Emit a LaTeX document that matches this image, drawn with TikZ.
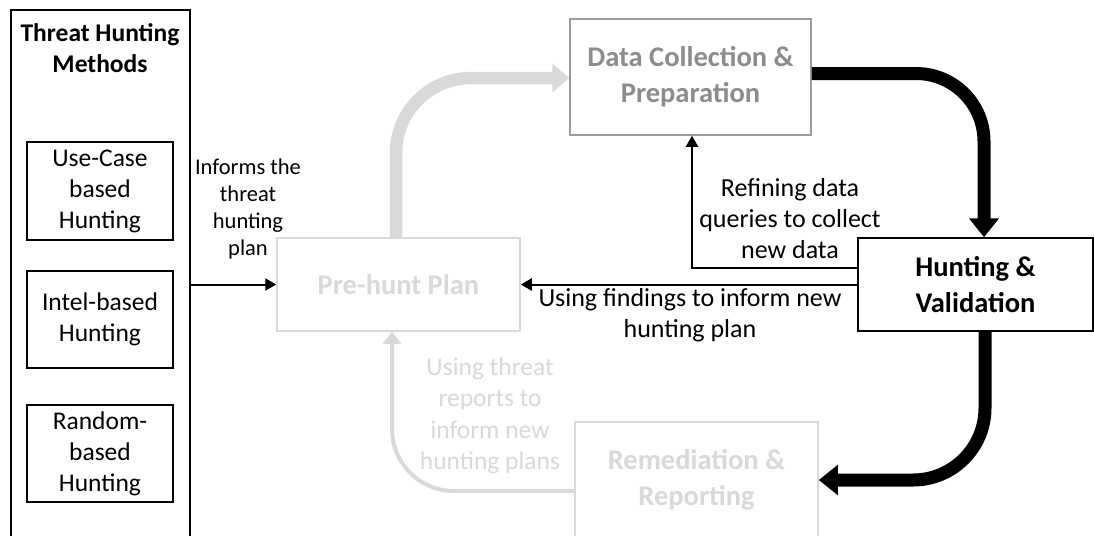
\documentclass[tikz,border=0pt]{standalone}
\usepackage{fontspec}
\setmainfont{Carlito}
\usetikzlibrary{arrows.meta,calc}
\definecolor{lgray}{RGB}{217,217,217}
\definecolor{mgraytext}{RGB}{140,140,140}
\definecolor{mgrayline}{RGB}{155,155,155}
\tikzset{
  base/.style={inner sep=0pt, align=center},
  mbox/.style={base, draw=black, line width=1.5pt, font=\fontsize{25.5}{31}\selectfont},
  stagebox/.style={base, line width=1.5pt, font=\bfseries\fontsize{28.5}{36}\selectfont},
  lbl/.style={base, font=\fontsize{26}{31}\selectfont},
  thinarrow/.style={draw=black, line width=2pt, -{Triangle[length=11pt,width=12pt]}},
  thinghost/.style={draw=lgray, line width=4pt, -{Triangle[length=12pt,width=18pt]}},
  thickblack/.style={draw=black, line width=13pt, -{Triangle[length=19pt,width=29pt]}},
  thickghost/.style={draw=lgray, line width=12.5pt, -{Triangle[length=17pt,width=28pt]}}
}
\begin{document}
\begin{tikzpicture}[x=1pt,y=-1pt]
\useasboundingbox (0,0) rectangle (1094,535);
\clip (0,0) rectangle (1094,535);
\fill[white] (0,0) rectangle (1094,535);

% Left column: methods
\node[base, draw=black, line width=2pt, minimum width=179pt, minimum height=535pt] (methods) at (100.5,277.5) {};
\node[base, font=\bfseries\fontsize{25.5}{31}\selectfont] (title) at (100,48.5) {Threat Hunting\\Methods};
\node[mbox, minimum width=146pt, minimum height=98pt] (uc) at (100,191) {Use-Case\\based\\Hunting};
\node[mbox, minimum width=146pt, minimum height=97pt] (intel) at (100,319.5) {Intel-based\\Hunting};
\node[mbox, minimum width=146pt, minimum height=97pt] (random) at (100,453.5) {Random-\\based\\Hunting};

% Stages
\node[stagebox, draw=lgray, text=lgray, minimum width=243pt, minimum height=93pt] (prehunt) at (398.5,284.5) {Pre-hunt Plan};
\node[stagebox, draw=mgrayline, text=mgraytext, minimum width=241pt, minimum height=116pt] (data) at (690.5,77) {Data Collection \&\\Preparation};
\node[stagebox, draw=black, text=black, minimum width=235pt, minimum height=93pt] (hunt) at (975.5,284.5) {Hunting \&\\Validation};
\node[stagebox, draw=lgray, text=lgray, minimum width=243pt, minimum height=116pt] (remed) at (696.5,480) {Remediation \&\\Reporting};

% Connectors
\draw[thinarrow] (methods.east |- prehunt.west) -- (prehunt.west);
\node[base, font=\fontsize{22.5}{27}\selectfont] (informs) at (248,209) {Informs the\\threat\\hunting\\plan};

\draw[thickghost, rounded corners=75pt] ($(prehunt.north)+(-2.5,0)$) |- ($(data.west)+(0,1)$);

\draw[thickblack, rounded corners=68pt] ($(data.east)+(0,-3.5)$) -| ($(hunt.north)+(8.5,0)$);

\draw[thinarrow] ($(hunt.west)+(0,-16.5)$) -| ($(data.south)+(1.5,0)$);
\node[lbl] (refining) at (790,219) {Refining data\\queries to collect\\new data};

\draw[thinarrow] (hunt.west) -- (prehunt.east);
\node[lbl] (findings) at (690,315) {Using findings to inform new\\hunting plan};

\draw[thickblack, rounded corners=72pt] ($(hunt.south)+(9.5,0)$) |- (remed.east);

\draw[thinghost, rounded corners=62pt] ($(remed.west)+(0,11)$) -| ($(prehunt.south)+(-6.5,0)$);
\node[lbl, text=lgray, font=\fontsize{25.5}{31.5}\selectfont] (threatrep) at (490,416) {Using threat\\reports to\\inform new\\hunting plans};
\end{tikzpicture}
\end{document}
